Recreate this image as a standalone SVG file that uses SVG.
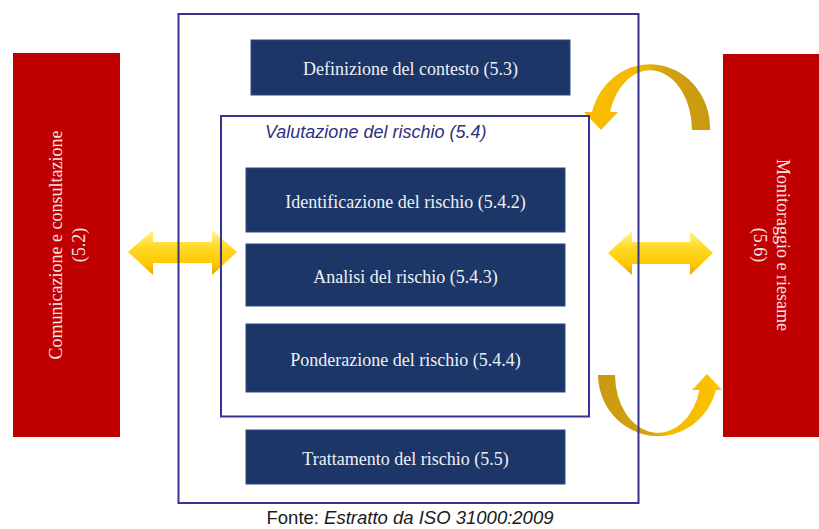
<svg xmlns="http://www.w3.org/2000/svg" width="819" height="529" viewBox="0 0 819 529">
  <defs>
    <linearGradient id="gDouble" x1="0" y1="0" x2="0" y2="1">
      <stop offset="0" stop-color="#fff3a0"/>
      <stop offset="0.35" stop-color="#ffdc2c"/>
      <stop offset="0.75" stop-color="#ffc800"/>
      <stop offset="1" stop-color="#e2a400"/>
    </linearGradient>
    <linearGradient id="gCurveTop" x1="0" y1="0" x2="1" y2="0">
      <stop offset="0" stop-color="#f8bd00"/>
      <stop offset="0.45" stop-color="#f5b800"/>
      <stop offset="0.62" stop-color="#d4a313"/>
      <stop offset="1" stop-color="#c8980f"/>
    </linearGradient>
    <linearGradient id="gCurveBot" x1="0" y1="0" x2="1" y2="0">
      <stop offset="0" stop-color="#c8980f"/>
      <stop offset="0.4" stop-color="#d4a313"/>
      <stop offset="0.58" stop-color="#f5b800"/>
      <stop offset="1" stop-color="#fcc400"/>
    </linearGradient>
  </defs>
  <style>
    .red { fill: #c00000; }
    .navy { fill: #1c3668; stroke: #2c4a80; stroke-width: 1; }
    .frame { fill: none; stroke: #35358f; stroke-width: 2; }
    .boxtxt { font-family: "Liberation Serif", "Times New Roman", serif; font-size: 18px; fill: #eef0f4; text-anchor: middle; }
    .redtxt { font-family: "Liberation Serif", "Times New Roman", serif; font-size: 18px; fill: #f6e4e4; text-anchor: middle; }
    .label { font-family: "Liberation Sans", Arial, sans-serif; font-size: 18px; font-style: italic; fill: #2f2f80; }
    .source { font-family: "Liberation Sans", Arial, sans-serif; font-size: 18.5px; fill: #1a1a1a; text-anchor: middle; }
    .dbl { fill: url(#gDouble); }
  </style>
  <rect width="819" height="529" fill="#ffffff"/>

  <g id="node-comunicazione">
    <rect class="red" x="13" y="53" width="107" height="384"/>
    <text class="redtxt" transform="translate(62,245) rotate(-90)">Comunicazione e consultazione</text>
    <text class="redtxt" transform="translate(85,245) rotate(-90)">(5.2)</text>
  </g>

  <g id="node-monitoraggio">
    <rect class="red" x="723" y="54" width="96" height="383"/>
    <text class="redtxt" transform="translate(777,245) rotate(90)">Monitoraggio e riesame</text>
    <text class="redtxt" transform="translate(754,245) rotate(90)">(5.6)</text>
  </g>

  <g id="connectors">
    <polygon class="dbl" points="128,252 153,230 153,242 212,242 212,230 237,252 212,275 212,263 153,263 153,275"/>
    <polygon class="dbl" points="608,253 632,231 632,242 690,242 690,231 713,253 690,275 690,264 632,264 632,275"/>
    <path fill="url(#gCurveTop)" d="M 710 130 A 60 64 0 0 0 592 112 L 584 112 L 601 130 L 618 112 L 610 112 A 42 60 0 0 1 692 130 Z"/>
    <path fill="url(#gCurveBot)" d="M 598 375 A 60 62 0 0 0 716 390 L 722 390 L 707 374 L 692 390 L 699.5 390 A 43 58 0 0 1 615 375 Z"/>
  </g>

  <g id="node-processo">
    <rect class="frame" x="178.5" y="14" width="460" height="489"/>
  </g>

  <g id="node-definizione">
    <rect class="navy" x="251" y="40" width="319" height="55"/>
    <text class="boxtxt" x="410.5" y="75">Definizione del contesto (5.3)</text>
  </g>

  <g id="node-valutazione">
    <rect class="frame" x="221" y="116" width="368" height="300.5"/>
    <text class="label" x="265" y="138">Valutazione del rischio (5.4)</text>
  </g>

  <g id="node-identificazione">
    <rect class="navy" x="246" y="168" width="319" height="64"/>
    <text class="boxtxt" x="405.5" y="208">Identificazione del rischio (5.4.2)</text>
  </g>

  <g id="node-analisi">
    <rect class="navy" x="246" y="244" width="319" height="62"/>
    <text class="boxtxt" x="405.5" y="283">Analisi del rischio (5.4.3)</text>
  </g>

  <g id="node-ponderazione">
    <rect class="navy" x="246" y="324" width="319" height="68"/>
    <text class="boxtxt" x="405.5" y="366">Ponderazione del rischio (5.4.4)</text>
  </g>

  <g id="node-trattamento">
    <rect class="navy" x="246" y="430" width="319" height="54"/>
    <text class="boxtxt" x="405.5" y="465">Trattamento del rischio (5.5)</text>
  </g>

  <text class="source" x="410" y="524">Fonte: <tspan font-style="italic">Estratto da ISO 31000:2009</tspan></text>
</svg>
